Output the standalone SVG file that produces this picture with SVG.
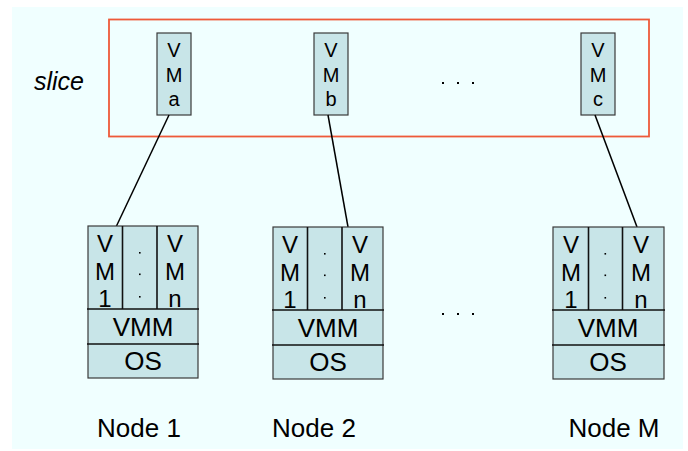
<svg xmlns="http://www.w3.org/2000/svg" width="688" height="451" viewBox="0 0 688 451">
<style>
.bg{fill:#F0FFFF}
.box{fill:#C8E5E8;stroke:#3a3a3a;stroke-width:1.2}
.div{stroke:#111;stroke-width:1.6;fill:none}
.t{font-family:"Liberation Sans",Arial,sans-serif;fill:#000;text-anchor:middle}
.vm{font-size:20px}
.nd{font-size:24px}
.big{font-size:26px}
.lbl{font-size:26px}
.conn line{stroke:#000;stroke-width:1.5}
.dot{fill:#000}
</style>
<rect class="bg" x="12" y="7" width="671" height="442"/>
<rect x="109" y="19.5" width="540" height="117" fill="none" stroke="#EE5A3A" stroke-width="1.8"/>
<text class="t" x="59" y="90" style="font-size:25px;font-style:italic">slice</text>
<g id="dots-top" class="dot"><rect x="442" y="82" width="2" height="2"/><rect x="457" y="82" width="2" height="2"/><rect x="472" y="82" width="2" height="2"/></g>
<g id="dots-mid" class="dot"><rect x="442" y="313" width="2" height="2"/><rect x="457" y="313" width="2" height="2"/><rect x="472" y="313" width="2" height="2"/></g>

<g id="vma"><rect class="box" x="157" y="33" width="34" height="82"/>
<text class="t vm" x="174" y="57">V</text><text class="t vm" x="174" y="82">M</text><text class="t vm" x="174" y="106">a</text></g>
<g id="vmb"><rect class="box" x="314" y="33" width="34" height="82"/>
<text class="t vm" x="331" y="57">V</text><text class="t vm" x="331" y="82">M</text><text class="t vm" x="331" y="106">b</text></g>
<g id="vmc"><rect class="box" x="581" y="33" width="34" height="82"/>
<text class="t vm" x="598" y="57">V</text><text class="t vm" x="598" y="82">M</text><text class="t vm" x="598" y="106">c</text></g>

<g class="conn" id="connectors">
<line x1="169" y1="115" x2="116" y2="227"/>
<line x1="328" y1="115" x2="348" y2="227"/>
<line x1="595" y1="115" x2="637" y2="227"/>
</g>

<g id="node1">
<rect class="box" x="88" y="226" width="110" height="152"/>
<line class="div" x1="122.5" y1="226" x2="122.5" y2="309"/><line class="div" x1="157" y1="226" x2="157" y2="309"/>
<line class="div" x1="87" y1="309" x2="199" y2="309"/><line class="div" x1="87" y1="344" x2="199" y2="344"/>
<text class="t nd" x="105" y="252">V</text><text class="t nd" x="105" y="280">M</text><text class="t nd" x="105" y="307">1</text>
<g class="dot"><rect x="139" y="252" width="1.6" height="1.6"/><rect x="139" y="273.5" width="1.6" height="1.6"/><rect x="139" y="296" width="1.6" height="1.6"/></g>
<text class="t nd" x="175" y="252">V</text><text class="t nd" x="175" y="280">M</text><text class="t nd" x="175" y="307">n</text>
<text class="t big" x="143" y="336">VMM</text><text class="t big" x="143" y="370">OS</text>
<text class="t lbl" x="139" y="437">Node 1</text>
</g>
<g id="node2">
<rect class="box" x="273" y="227" width="110" height="152"/>
<line class="div" x1="307.5" y1="227" x2="307.5" y2="310"/><line class="div" x1="342" y1="227" x2="342" y2="310"/>
<line class="div" x1="272" y1="310" x2="384" y2="310"/><line class="div" x1="272" y1="345" x2="384" y2="345"/>
<text class="t nd" x="290" y="253">V</text><text class="t nd" x="290" y="281">M</text><text class="t nd" x="290" y="308">1</text>
<g class="dot"><rect x="324" y="253" width="1.6" height="1.6"/><rect x="324" y="274.5" width="1.6" height="1.6"/><rect x="324" y="297" width="1.6" height="1.6"/></g>
<text class="t nd" x="360" y="253">V</text><text class="t nd" x="360" y="281">M</text><text class="t nd" x="360" y="308">n</text>
<text class="t big" x="328" y="337">VMM</text><text class="t big" x="328" y="371">OS</text>
<text class="t lbl" x="314" y="437">Node 2</text>
</g>
<g id="nodeM">
<rect class="box" x="553" y="227" width="111" height="152"/>
<line class="div" x1="588.5" y1="227" x2="588.5" y2="310"/><line class="div" x1="622.5" y1="227" x2="622.5" y2="310"/>
<line class="div" x1="552" y1="310" x2="665" y2="310"/><line class="div" x1="552" y1="345" x2="665" y2="345"/>
<text class="t nd" x="571" y="253">V</text><text class="t nd" x="571" y="281">M</text><text class="t nd" x="571" y="308">1</text>
<g class="dot"><rect x="604.5" y="253" width="1.6" height="1.6"/><rect x="604.5" y="274.5" width="1.6" height="1.6"/><rect x="604.5" y="297" width="1.6" height="1.6"/></g>
<text class="t nd" x="641" y="253">V</text><text class="t nd" x="641" y="281">M</text><text class="t nd" x="641" y="308">n</text>
<text class="t big" x="608" y="337">VMM</text><text class="t big" x="608" y="371">OS</text>
<text class="t lbl" x="614" y="437">Node M</text>
</g>
</svg>
